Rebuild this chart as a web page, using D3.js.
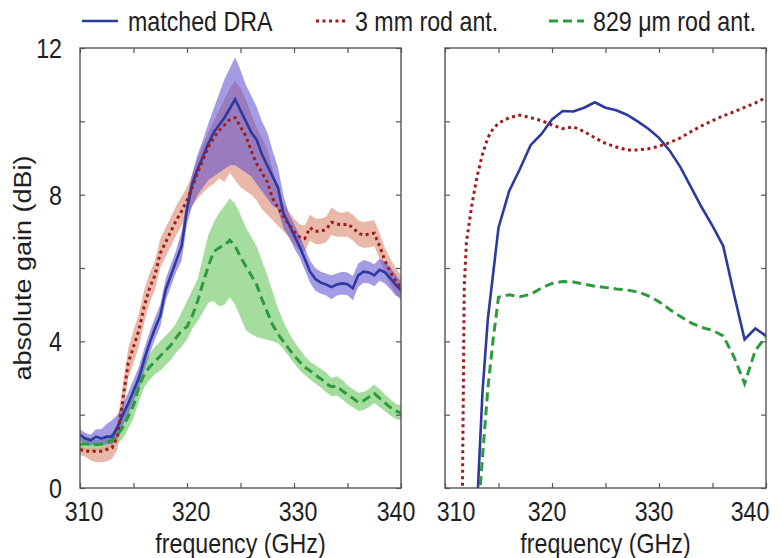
<!DOCTYPE html>
<html>
<head>
<meta charset="utf-8">
<script src="https://cdn.jsdelivr.net/npm/d3@7"></script>
<style>
  body { margin: 0; background: #fff; }
  text { font-family: "Liberation Sans", Arial, sans-serif; fill: #1e1e1e; }
</style>
</head>
<body>
<div id="chart"></div>
<script>
// measured gain (left panel), 0.5 GHz steps
const freqMeas = [310, 310.5, 311, 311.5, 312, 312.5, 313, 313.5, 314, 314.5, 315, 315.5, 316, 316.5, 317, 317.5,
  318, 318.5, 319, 319.5, 320, 320.5, 321, 321.5, 322, 322.5, 323, 323.5, 324, 324.5, 325, 325.5, 326, 326.5,
  327, 327.5, 328, 328.5, 329, 329.5, 330, 330.5, 331, 331.5, 332, 332.5, 333, 333.5, 334, 334.5, 335, 335.5,
  336, 336.5, 337, 337.5, 338, 338.5, 339, 339.5, 340];

const draGain = [1.45, 1.35, 1.3, 1.4, 1.35, 1.4, 1.4, 1.65, 2.0, 2.3, 2.65, 3.0, 3.5, 3.95, 4.35, 4.7,
  5.4, 5.8, 6.2, 6.6, 7.6, 8.3, 8.7, 9.05, 9.4, 9.7, 9.9, 10.1, 10.35, 10.6, 10.3, 10.0, 9.7, 9.5,
  9.1, 8.8, 8.5, 8.2, 7.5, 7.2, 6.9, 6.6, 6.25, 5.9, 5.7, 5.6, 5.55, 5.48, 5.55, 5.58, 5.56, 5.45,
  5.8, 5.9, 5.88, 5.8, 5.95, 5.88, 5.72, 5.55, 5.4];
const draHi = [1.6, 1.5, 1.45, 1.6, 1.6, 1.75, 1.85, 2.0, 2.3, 2.6, 2.95, 3.3, 3.8, 4.25, 4.65, 5.0,
  5.7, 6.1, 6.5, 7.0, 7.9, 8.6, 9.1, 9.5, 9.95, 10.35, 10.75, 11.15, 11.45, 11.75, 11.4, 11.0, 10.7, 10.4,
  10.0, 9.7, 9.2, 8.75, 8.0, 7.5, 7.2, 6.9, 6.55, 6.2, 6.0, 5.9, 5.85, 5.8, 5.85, 5.9, 5.88, 5.78,
  6.12, 6.22, 6.18, 6.1, 6.25, 6.18, 6.02, 5.82, 5.62];
const draLo = [1.3, 1.2, 1.15, 1.2, 1.15, 1.2, 1.2, 1.35, 1.7, 2.0, 2.35, 2.7, 3.2, 3.65, 4.05, 4.4,
  5.1, 5.5, 5.9, 6.2, 7.2, 7.7, 8.0, 8.2, 8.4, 8.5, 8.6, 8.7, 8.8, 8.8, 8.7, 8.6, 8.5, 8.3,
  8.1, 7.9, 7.7, 7.6, 7.1, 6.85, 6.55, 6.3, 5.95, 5.6, 5.38, 5.3, 5.25, 5.15, 5.25, 5.28, 5.26, 5.12,
  5.48, 5.6, 5.58, 5.5, 5.65, 5.58, 5.42, 5.25, 5.18];

const rod3Gain = [1.05, 1.0, 1.0, 1.0, 1.0, 1.05, 1.1, 1.4, 2.4, 3.4, 3.85, 4.3, 4.95, 5.45, 5.8, 6.4,
  6.7, 7.0, 7.3, 7.55, 7.85, 8.2, 8.6, 8.95, 9.3, 9.55, 9.75, 9.9, 10.05, 10.1, 9.85, 9.6, 9.2, 8.85,
  8.6, 8.35, 7.9, 7.65, 7.4, 7.2, 7.0, 6.85, 6.8, 7.1, 7.0, 7.0, 7.05, 7.25, 7.2, 7.17, 7.2, 7.1,
  6.95, 6.9, 6.92, 6.95, 6.6, 6.2, 5.9, 5.65, 5.45];
const rod3Hi = [1.15, 1.1, 1.1, 1.1, 1.1, 1.2, 1.35, 1.8, 2.8, 3.8, 4.3, 4.75, 5.4, 5.85, 6.2, 6.8,
  7.1, 7.4, 7.7, 7.95, 8.2, 8.55, 9.0, 9.35, 9.7, 10.0, 10.3, 10.6, 10.9, 11.1, 10.9, 10.6, 10.2, 9.85,
  9.55, 9.25, 8.7, 8.1, 7.75, 7.55, 7.35, 7.2, 7.15, 7.45, 7.35, 7.35, 7.4, 7.65, 7.55, 7.5, 7.55, 7.45,
  7.3, 7.25, 7.28, 7.3, 6.95, 6.55, 6.25, 6.0, 5.8];
const rod3Lo = [0.9, 0.85, 0.75, 0.7, 0.7, 0.72, 0.8, 1.05, 2.0, 3.0, 3.4, 3.85, 4.5, 5.05, 5.4, 6.0,
  6.3, 6.6, 6.9, 7.15, 7.45, 7.7, 7.9, 8.05, 8.2, 8.3, 8.45, 8.35, 8.6, 8.4, 8.2, 8.1, 8.0, 7.85,
  7.6, 7.45, 7.3, 7.15, 7.0, 6.85, 6.65, 6.5, 6.45, 6.75, 6.65, 6.65, 6.7, 6.9, 6.85, 6.85, 6.85, 6.75,
  6.6, 6.55, 6.56, 6.6, 6.25, 5.85, 5.55, 5.3, 5.1];

const rod829Gain = [1.2, 1.2, 1.2, 1.18, 1.2, 1.25, 1.3, 1.45, 1.65, 1.95, 2.25, 2.75, 3.1, 3.3, 3.45, 3.6,
  3.75, 3.9, 4.1, 4.3, 4.4, 4.7, 5.1, 5.6, 6.05, 6.45, 6.55, 6.62, 6.76, 6.6, 6.3, 6.05, 5.8, 5.55,
  5.15, 4.8, 4.45, 4.2, 4.0, 3.8, 3.62, 3.45, 3.3, 3.2, 3.08, 2.98, 2.85, 2.76, 2.78, 2.65, 2.55, 2.45,
  2.33, 2.38, 2.48, 2.58, 2.45, 2.32, 2.2, 2.1, 2.05];
const rod829Hi = [1.35, 1.35, 1.35, 1.3, 1.35, 1.4, 1.5, 1.75, 2.0, 2.3, 2.65, 3.1, 3.45, 3.65, 3.85, 4.0,
  4.15, 4.3, 4.5, 4.8, 5.1, 5.4, 5.7, 6.3, 6.9, 7.25, 7.5, 7.7, 7.9, 7.75, 7.45, 7.1, 6.85, 6.6,
  6.2, 5.8, 5.35, 4.9, 4.55, 4.25, 4.0, 3.8, 3.6, 3.45, 3.35, 3.25, 3.15, 3.0, 3.05, 2.95, 2.8, 2.7,
  2.6, 2.62, 2.7, 2.82, 2.7, 2.55, 2.42, 2.3, 2.25];
const rod829Lo = [1.05, 1.0, 1.0, 1.0, 1.0, 1.05, 1.1, 1.2, 1.35, 1.6, 1.9, 2.35, 2.75, 2.95, 3.1, 3.2,
  3.35, 3.5, 3.7, 3.85, 4.05, 4.35, 4.55, 4.8, 5.05, 5.1, 4.95, 5.0, 5.2, 5.0, 4.65, 4.3, 4.2, 4.12,
  4.08, 4.04, 4.0, 3.95, 3.8, 3.6, 3.4, 3.22, 3.08, 2.96, 2.84, 2.74, 2.62, 2.5, 2.52, 2.42, 2.3, 2.2,
  2.1, 2.12, 2.2, 2.32, 2.2, 2.1, 1.98, 1.88, 1.85];

// simulated gain (right panel)
const simDraFreq = [313, 313.5, 314, 314.5, 315, 316, 317, 318, 319, 320, 321, 322, 323, 324, 325, 326,
  327, 328, 329, 330, 331, 332, 333, 334, 335, 336, 337, 338, 339, 340];
const simDraGain = [-0.5, 2.6, 4.6, 5.85, 7.1, 8.1, 8.7, 9.35, 9.65, 10.05, 10.28, 10.27, 10.37, 10.52, 10.37, 10.3,
  10.18, 10.0, 9.8, 9.55, 9.2, 8.75, 8.2, 7.65, 7.15, 6.6, 5.3, 4.05, 4.35, 4.15];

const simRod3Freq = [311.6, 311.8, 312, 312.5, 313, 313.5, 314, 314.5, 315, 316, 317, 318, 319, 320, 321, 322,
  323, 324, 325, 326, 327, 328, 329, 330, 331, 332, 333, 334, 335, 336, 337, 338, 339, 340];
const simRod3Gain = [-1, 5.5, 6.7, 7.7, 8.5, 9.1, 9.55, 9.8, 9.95, 10.1, 10.17, 10.1, 10.02, 9.9, 9.8, 9.85,
  9.72, 9.55, 9.4, 9.3, 9.22, 9.22, 9.25, 9.32, 9.42, 9.55, 9.72, 9.88, 10.02, 10.15, 10.26, 10.38, 10.5, 10.65];

const simRod829Freq = [313.2, 314, 314.5, 315, 316, 317, 318, 319, 320, 321, 322, 323, 324, 325, 326, 327,
  328, 329, 330, 331, 332, 333, 334, 335, 336, 337, 338, 339, 340];
const simRod829Gain = [-0.3, 2.7, 4.05, 5.2, 5.27, 5.22, 5.28, 5.45, 5.58, 5.63, 5.62, 5.56, 5.5, 5.47, 5.43, 5.4,
  5.35, 5.24, 5.08, 4.87, 4.68, 4.5, 4.38, 4.3, 4.15, 3.58, 2.85, 3.75, 4.13];

// axes
const yTicks = [0, 2, 4, 6, 8, 10, 12];
const yTickLabels = [0, 4, 8, 12];
const xTicks = [310, 315, 320, 325, 330, 335, 340];
const xTickLabels = [310, 320, 330, 340];
const legendLabels = ["matched DRA", "3 mm rod ant.", "829 \u03bcm rod ant."];

// chart building
const svgWidth = 781;
const svgHeight = 558;
const plotTop = 48, plotBottom = 488;
// label nudges copy the original's crowded tick labels
const panels = [
  { left: 80, right: 401, nudge: [4, 4, 4, -5] },
  { left: 445, right: 766, nudge: [11, -5, -5, -16] }
];
const squeeze = 0.86; // text in the figure is horizontally compressed
const fontSize = 27;

const colors = { dra: "#2c3a9e", rod3: "#9e1d1a", rod829: "#2e9a3e" };

const svg = d3.select("#chart")
  .append("svg")
  .attr("width", svgWidth)
  .attr("height", svgHeight);

const yScale = d3.scaleLinear().domain([0, 12]).range([plotBottom, plotTop]);

function label(g, x, y, str, anchor, rotate) {
  const tr = rotate
    ? `translate(${x},${y}) rotate(-90) scale(1,${squeeze})`
    : `translate(${x},${y}) scale(${squeeze},1)`;
  g.append("text")
    .attr("transform", tr)
    .attr("text-anchor", anchor)
    .attr("font-size", fontSize)
    .text(str);
}

const zip = (xs, ys) => xs.map((f, i) => ({ f: f, g: ys[i] }));
const zipBand = (xs, lo, hi) => xs.map((f, i) => ({ f: f, lo: lo[i], hi: hi[i] }));

panels.forEach(function (p, idx) {
  const xScale = d3.scaleLinear().domain([310, 340]).range([p.left, p.right]);
  const g = svg.append("g");

  const clipId = "clip" + idx;
  svg.append("clipPath").attr("id", clipId)
    .append("rect")
    .attr("x", p.left).attr("y", plotTop)
    .attr("width", p.right - p.left).attr("height", plotBottom - plotTop);

  const plot = g.append("g").attr("clip-path", `url(#${clipId})`);
  const line = d3.line().x(d => xScale(d.f)).y(d => yScale(d.g));
  const area = d3.area().x(d => xScale(d.f)).y0(d => yScale(d.lo)).y1(d => yScale(d.hi));

  if (idx === 0) {
    // Step 1: shaded uncertainty bands
    plot.append("path").datum(zipBand(freqMeas, rod829Lo, rod829Hi))
      .attr("d", area).attr("fill", "#8fd487").attr("opacity", 0.8);
    plot.append("path").datum(zipBand(freqMeas, rod3Lo, rod3Hi))
      .attr("d", area).attr("fill", "#e2a08c").attr("opacity", 0.75);
    plot.append("path").datum(zipBand(freqMeas, draLo, draHi))
      .attr("d", area).attr("fill", "#5a48d0").attr("opacity", 0.55);

    // Step 2: measured lines
    plot.append("path").datum(zip(freqMeas, draGain))
      .attr("d", line).attr("fill", "none").attr("stroke", colors.dra).attr("stroke-width", 2.6);
    plot.append("path").datum(zip(freqMeas, rod3Gain))
      .attr("d", line).attr("fill", "none").attr("stroke", colors.rod3).attr("stroke-width", 3)
      .attr("stroke-dasharray", "3,3.5");
    plot.append("path").datum(zip(freqMeas, rod829Gain))
      .attr("d", line).attr("fill", "none").attr("stroke", colors.rod829).attr("stroke-width", 3)
      .attr("stroke-dasharray", "9,5");
  } else {
    plot.append("path").datum(zip(simDraFreq, simDraGain))
      .attr("d", line).attr("fill", "none").attr("stroke", colors.dra).attr("stroke-width", 2.6);
    plot.append("path").datum(zip(simRod3Freq, simRod3Gain))
      .attr("d", line).attr("fill", "none").attr("stroke", colors.rod3).attr("stroke-width", 3)
      .attr("stroke-dasharray", "3,3.5");
    plot.append("path").datum(zip(simRod829Freq, simRod829Gain))
      .attr("d", line).attr("fill", "none").attr("stroke", colors.rod829).attr("stroke-width", 3)
      .attr("stroke-dasharray", "9,5");
  }

  // Step 3: inward ticks on all four sides
  const axes = [
    { ax: d3.axisBottom(xScale).tickValues(xTicks), t: `translate(0,${plotBottom})` },
    { ax: d3.axisTop(xScale).tickValues(xTicks), t: `translate(0,${plotTop})` },
    { ax: d3.axisLeft(yScale).tickValues(yTicks), t: `translate(${p.left},0)` },
    { ax: d3.axisRight(yScale).tickValues(yTicks), t: `translate(${p.right},0)` }
  ];
  axes.forEach(function (a) {
    const ag = g.append("g").attr("transform", a.t)
      .call(a.ax.tickSize(-5).tickFormat(""));
    ag.select(".domain").remove();
    ag.selectAll("line").attr("stroke", "#555").attr("stroke-width", 1.2);
  });

  g.append("rect")
    .attr("x", p.left).attr("y", plotTop)
    .attr("width", p.right - p.left).attr("height", plotBottom - plotTop)
    .attr("fill", "none").attr("stroke", "#555").attr("stroke-width", 1.4);

  // Step 4: tick labels and titles
  xTickLabels.forEach((v, i) => label(g, xScale(v) + p.nudge[i], 521, v, "middle"));
  if (idx === 0) {
    yTickLabels.forEach(v => label(g, 62, yScale(v) + 10, v, "end"));
    label(g, 31, (plotTop + plotBottom) / 2, "absolute gain (dBi)", "middle", true);
  }
  label(g, (p.left + p.right) / 2, 553, "frequency (GHz)", "middle");
});

// legend
const legendItems = [
  { x0: 82, x1: 118, tx: 128, color: colors.dra, dash: null, w: 2.6 },
  { x0: 316, x1: 347, tx: 355, color: colors.rod3, dash: "3,3.5", w: 3 },
  { x0: 549, x1: 584, tx: 593, color: colors.rod829, dash: "9,5", w: 3 }
];
const legend = svg.append("g");
legendItems.forEach(function (d, i) {
  legend.append("line")
    .attr("x1", d.x0).attr("x2", d.x1).attr("y1", 21).attr("y2", 21)
    .attr("stroke", d.color).attr("stroke-width", d.w)
    .attr("stroke-dasharray", d.dash);
  label(legend, d.tx, 31, legendLabels[i], "start");
});
</script>
</body>
</html>
